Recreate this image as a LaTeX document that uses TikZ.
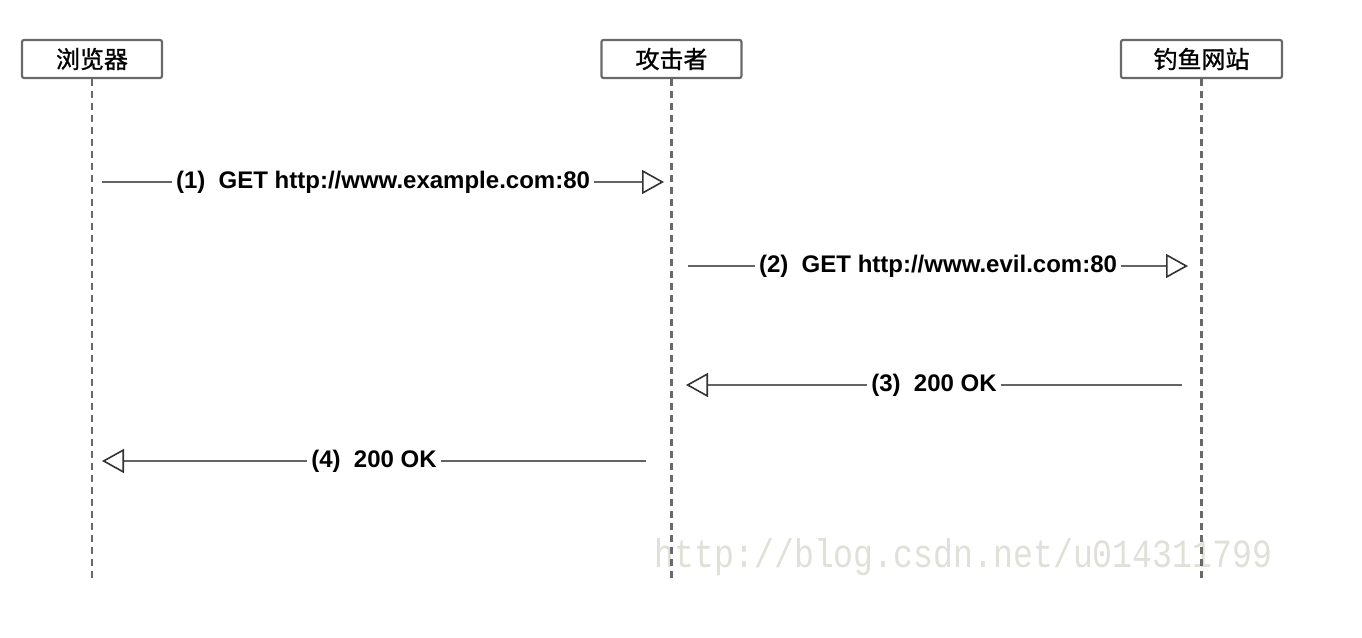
\documentclass[tikz,border=0pt]{standalone}
\usepackage{fontspec}
\setmainfont{Liberation Sans}
\newfontfamily\cjk[FakeBold=1]{Noto Sans CJK SC}
\newfontfamily\wmfont{Liberation Mono}
\usetikzlibrary{arrows.meta}
\usetikzlibrary{positioning}
\definecolor{lifegray}{RGB}{105,105,105}
\definecolor{msggray}{RGB}{100,100,100}
\definecolor{wmgray}{RGB}{224,224,216}

\begin{document}
\begin{tikzpicture}[x=0.5pt, y=-0.5pt,
    actor/.style={draw=lifegray, line width=1.1pt, rounded corners=1pt, minimum width=70pt,
                  minimum height=19pt, inner sep=0pt, font=\cjk\fontsize{12}{12}\selectfont},
    lifeline/.style={lifegray, line width=1.1pt, dash pattern=on 3.5pt off 2.5pt},
    msg/.style={msggray, line width=1.3pt,
                -{Triangle[length=11pt, width=12pt, fill=white, color=black!80, line width=0.8pt]}},
    lbl/.style={fill=white, text=black, inner xsep=2pt, inner ysep=1pt,
                font=\bfseries\fontsize{12}{12}\selectfont}]
            \useasboundingbox (0,0) rectangle (1362,638);
            % watermark behind the lifelines
            \node[text=wmgray, font=\wmfont\fontsize{20}{20}\selectfont, xscale=0.83] (watermark)
                 at (963.5,557) {http://blog.csdn.net/u014311799};
            % actors
            \node[actor]                      (browser)  at (  92.0,59) {浏览器};
            \node[actor]                      (attacker) at ( 671.5,59) {攻击者};
            \node[actor, minimum width=80.5pt] (phish)    at (1201.5,59) {钓鱼网站};
            \foreach \who in {browser,attacker,phish}
                \draw[lifeline] (\who.south) -- (\who.south |- 0,578);
            % message end points
            \coordinate (m1 from) at ( 102,182);  \coordinate (m1 to) at ( 664,182);
            \coordinate (m2 from) at ( 688,266);  \coordinate (m2 to) at (1188,266);
            \coordinate (m3 from) at (1182,385);  \coordinate (m3 to) at ( 686,385);
            \coordinate (m4 from) at ( 646,461);  \coordinate (m4 to) at ( 102,461);
            % messages
            \draw[msg] (m1 from) -- node[lbl] {(1)\ \ GET http://www.example.com:80} (m1 to);
            \draw[msg] (m2 from) -- node[lbl] {(2)\ \ GET http://www.evil.com:80}    (m2 to);
            \draw[msg] (m3 from) -- node[lbl] {(3)\ \ 200 OK}                       (m3 to);
            \draw[msg] (m4 from) -- node[lbl] {(4)\ \ 200 OK}                       (m4 to);
\end{tikzpicture}
\end{document}
